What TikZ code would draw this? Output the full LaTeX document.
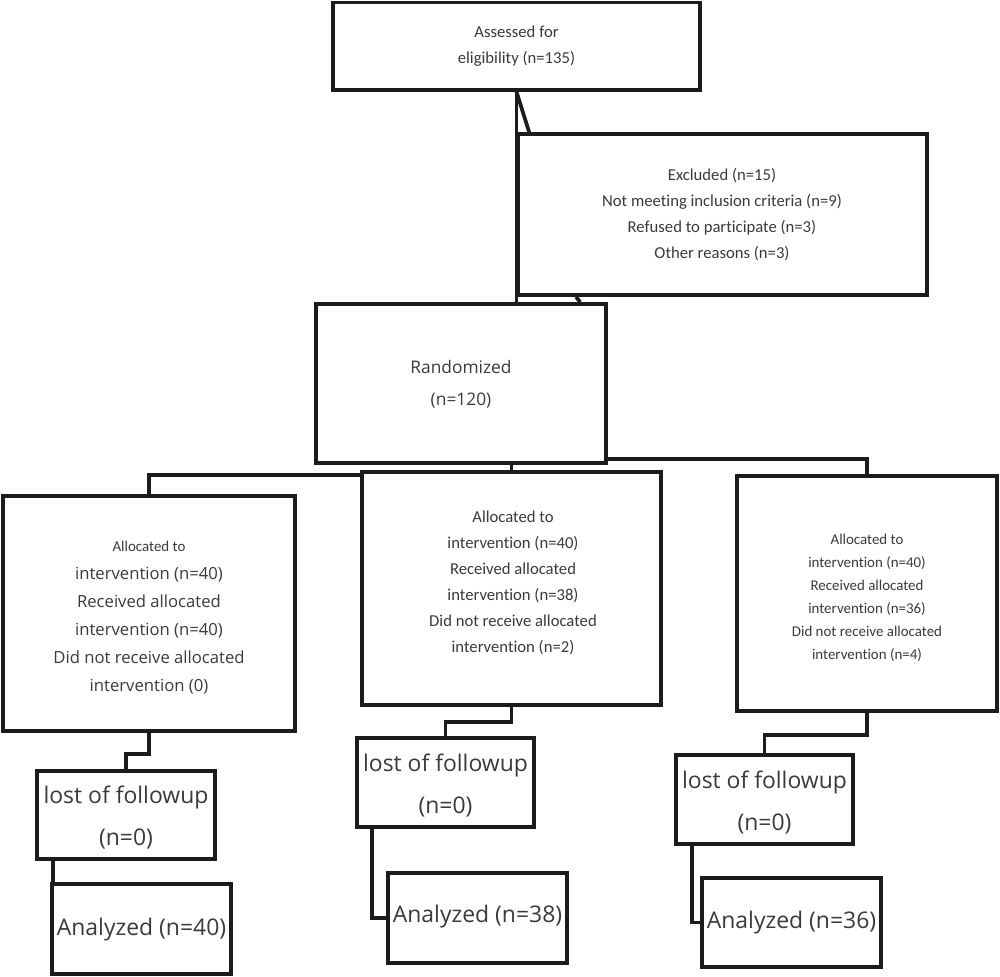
\documentclass[tikz,border=0pt]{standalone}
\usepackage{fontspec}
\usetikzlibrary{calc}
\newfontfamily\carl[Ligatures=NoCommon]{Carlito}
\newfontfamily\opsans{Open Sans}
\definecolor{lc}{HTML}{1C1C1C}
\definecolor{tc}{HTML}{3A3A3A}
\pgfdeclarelayer{background}
\pgfsetlayers{background,main}
\newcommand\mybox[6]{\node[box, minimum width={(#4-#2)*0.75pt}, minimum height={(#5-#3)*0.75pt}] (#1) at ({(#2+#4)/2},{(#3+#5)/2}) {#6};}
\begin{document}
\begin{tikzpicture}[x=0.75pt,y=-0.75pt,
  box/.style={draw=lc, line width=2.8pt, inner sep=0pt, align=center, text=tc, fill=white},
  conn/.style={draw=lc, line width=2.8pt},
  lbl/.style={align=center, text=tc},
  fsmall/.style={font=\carl\fontsize{12.5}{19.5}\selectfont},
  fsmaller/.style={font=\carl\fontsize{11.2}{17.25}\selectfont},
  fmid/.style={font=\opsans\fontsize{12.5}{21}\selectfont},
  frand/.style={font=\opsans\fontsize{13}{24}\selectfont},
  fbig/.style={font=\opsans\fontsize{17.2}{31.5}\selectfont}]
\useasboundingbox (0,0) rectangle (1000,977);
% boxes
\mybox{assess}{333}{2.5}{700}{90}{}
\mybox{excl}{518}{134}{927}{295}{}
\mybox{rand}{316}{304}{606}{463}{}
\mybox{alloca}{3}{496}{295}{731}{}
\mybox{allocb}{362}{472}{661}{705}{}
\mybox{allocc}{737}{476}{997}{711}{}
\mybox{losta}{37}{771}{215}{859}{}
\mybox{anaa}{52}{884}{231}{974}{}
\mybox{lostb}{357}{738}{534}{827}{}
\mybox{anab}{388}{873}{567}{963}{}
\mybox{lostc}{676}{755}{853}{844}{}
\mybox{anac}{702}{878}{881}{967}{}
% connectors behind the boxes
\begin{pgfonlayer}{background}
\draw[conn] (assess.south) -- (assess.south |- rand.north);
\draw[conn] (assess.south) -- ($(excl.north west)+(13,0)$);
\draw[conn] ($(excl.south west)+(60,0)$) -- ($(rand.north west)+(266,0)$);
\draw[conn] ($(allocb.north west)+(0,5)$) -| (alloca.north);
\draw[conn] (rand.south -| allocb.north) -- (allocb.north);
\draw[conn] ($(rand.south east)+(0,-6)$) -| (allocc.north);
\draw[conn] (alloca.south) -- ++(0,21) -| (losta.north);
\draw[conn] ($(losta.south west)+(18,0)$) -- ($(losta.south west)+(18,25)$);
\draw[conn] (allocb.south) -- ++(0,15) -| (lostb.north);
\draw[conn] ($(lostb.south west)+(17,0)$) |- (anab.west);
\draw[conn] (allocc.south) -- ++(0,22) -| (lostc.north);
\draw[conn] ($(lostc.south west)+(18,0)$) |- (anac.west);
\end{pgfonlayer}
\draw[conn] (assess.south |- excl.north) -- (assess.south |- rand.north);
% texts
\node[fsmall, lbl] (assesst) at (516.5,46) {Assessed for\\eligibility (n=135)};
\node[fsmall, lbl] (exclt) at (722,215) {Excluded (n=15)\\Not meeting inclusion criteria (n=9)\\Refused to participate (n=3)\\Other reasons (n=3)};
\node[frand, lbl] (randt) at (461,384) {Randomized\\(n=120)};
\node[fmid, lbl] (allocat) at (149,618) {{\carl\fontsize{11.2}{21}\selectfont Allocated to}\\intervention (n=40)\\Received allocated\\intervention (n=40)\\Did not receive allocated\\intervention (0)};
\node[fsmall, lbl] (allocbt) at (513,583) {Allocated to\\intervention (n=40)\\Received allocated\\intervention (n=38)\\Did not receive allocated\\intervention (n=2)};
\node[fsmaller, lbl] (allocct) at (867,598) {Allocated to\\intervention (n=40)\\Received allocated\\intervention (n=36)\\Did not receive allocated\\intervention (n=4)};
\node[fbig, lbl] (lostat) at (126,818) {lost of followup\\(n=0)};
\node[fbig, lbl] (lostbt) at (445.5,786) {lost of followup\\(n=0)};
\node[fbig, lbl] (lostct) at (764.5,803) {lost of followup\\(n=0)};
\node[fbig, lbl] (anaat) at (141.5,930) {Analyzed (n=40)};
\node[fbig, lbl] (anabt) at (477.5,917) {Analyzed (n=38)};
\node[fbig, lbl] (anact) at (791.5,923) {Analyzed (n=36)};
\end{tikzpicture}
\end{document}
